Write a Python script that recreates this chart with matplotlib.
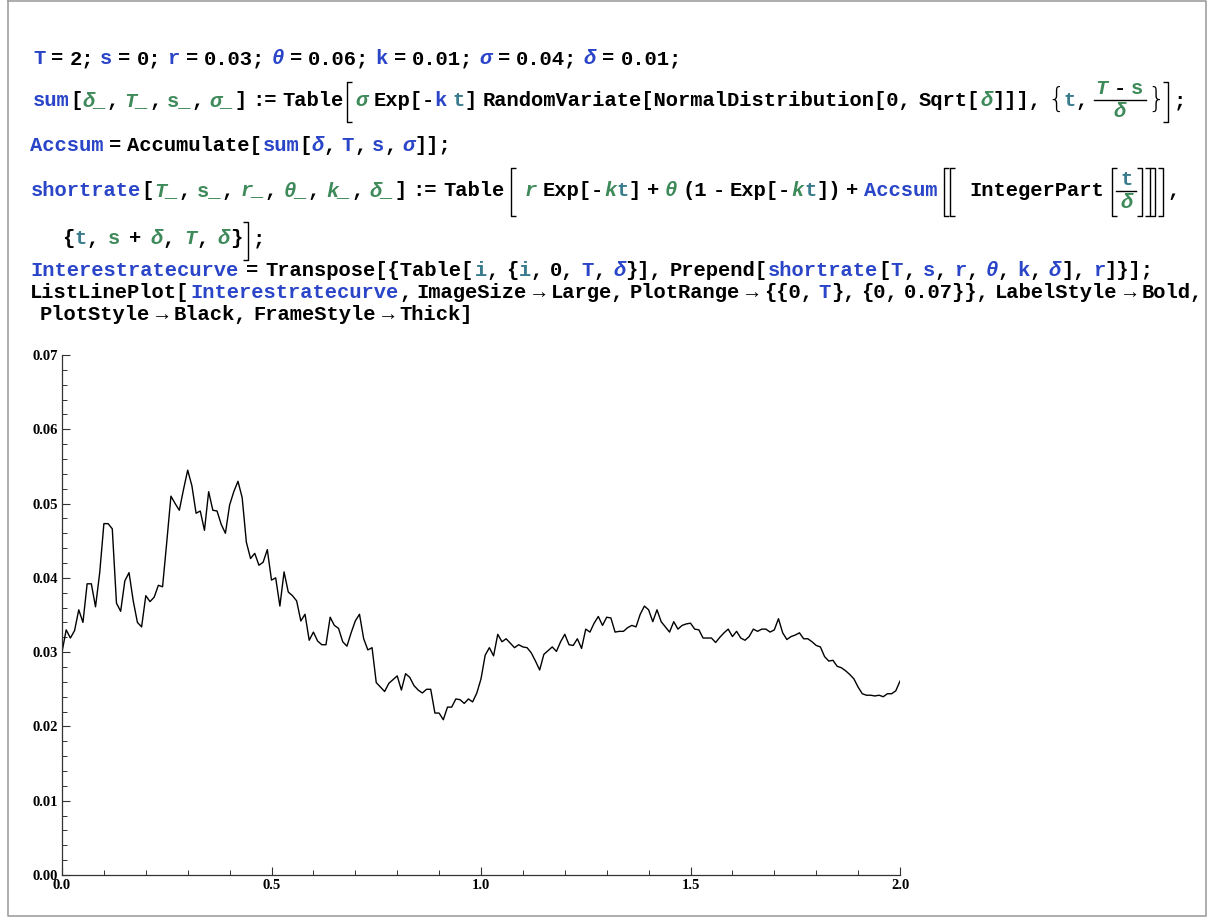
import re
import numpy as np
import matplotlib.pyplot as plt
from matplotlib.ticker import MultipleLocator

# short rate path r(t), t = 0, 0.01, ..., 2 (in units of 1e-3)
rate_1e3 = [
    30.0, 33.0, 31.9, 32.9, 35.7, 34.0, 39.2, 39.2, 36.1, 40.7,
    47.3, 47.3, 46.6, 36.6, 35.5, 39.6, 40.7, 36.9, 34.0, 33.4,
    37.6, 36.8, 37.4, 39.0, 38.8, 44.8, 51.0, 50.0, 49.1, 51.9,
    54.5, 52.4, 48.7, 49.0, 46.4, 51.6, 49.1, 49.0, 47.2, 46.0,
    49.8, 51.6, 53.0, 50.8, 44.8, 42.6, 43.3, 41.7, 42.1, 43.8,
    39.7, 40.0, 36.2, 40.8, 38.1, 37.6, 36.9, 34.2, 35.1, 31.6,
    32.7, 31.5, 31.0, 31.0, 34.7, 33.6, 33.2, 31.4, 30.8, 32.6,
    34.2, 35.1, 31.8, 30.3, 30.6, 25.9, 25.3, 24.7, 25.8, 26.3,
    26.8, 24.9, 27.1, 26.6, 25.5, 24.9, 24.5, 25.0, 25.0, 21.8,
    21.8, 20.9, 22.6, 22.6, 23.7, 23.6, 23.1, 23.7, 23.3, 24.5,
    26.4, 29.6, 30.6, 29.5, 32.4, 31.4, 31.8, 31.2, 30.6, 31.0,
    30.7, 30.6, 29.9, 28.8, 27.6, 29.7, 30.2, 30.7, 30.1, 31.4,
    32.4, 31.0, 30.9, 31.8, 30.5, 33.1, 32.7, 33.9, 34.8, 33.6,
    34.7, 34.6, 32.7, 32.8, 32.8, 33.3, 33.6, 33.4, 35.1, 36.2,
    35.7, 34.1, 35.7, 34.1, 33.4, 32.7, 34.1, 33.1, 33.6, 33.8,
    33.9, 33.1, 33.0, 31.9, 31.9, 31.9, 31.3, 32.0, 32.6, 33.1,
    32.1, 32.8, 31.9, 31.6, 32.1, 33.1, 32.8, 33.1, 33.1, 32.7,
    33.0, 34.5, 32.6, 31.7, 32.1, 32.3, 32.6, 31.8, 31.8, 31.4,
    30.9, 30.7, 29.4, 28.8, 28.9, 28.1, 27.9, 27.5, 27.0, 26.4,
    25.3, 24.4, 24.2, 24.2, 24.1, 24.2, 24.0, 24.4, 24.4, 24.8,
    26.1,
]
delta = 0.01
times = np.arange(len(rate_1e3)) * delta
rates = np.array(rate_1e3) / 1000

x_ticks = [0.0, 0.5, 1.0, 1.5, 2.0]
x_labels = ['0.0', '0.5', '1.0', '1.5', '2.0']
y_ticks = [0.00, 0.01, 0.02, 0.03, 0.04, 0.05, 0.06, 0.07]
y_labels = ['0.00', '0.01', '0.02', '0.03', '0.04', '0.05', '0.06', '0.07']

BLUE = '#2a45c8'
GREEN = '#3f8a5a'
TEAL = '#3a7c8e'
STY = {
    'k': ('black', 'normal'),
    'b': (BLUE, 'normal'),
    'bi': (BLUE, 'italic'),
    'g': (GREEN, 'normal'),
    'gi': (GREEN, 'italic'),
    't': (TEAL, 'normal'),
}
MONO = ['Liberation Mono', 'DejaVu Sans Mono']
CW = 12.3          # advance of one glyph, px
SW = 5.5           # Mathematica's narrow spaces, px
FS = CW / 0.6 * 0.72

W, H = 1209, 918
fig = plt.figure(figsize=(W / 100, H / 100), dpi=100)
tax = fig.add_axes([0, 0, 1, 1])
tax.set_xlim(0, W)
tax.set_ylim(H, 0)
tax.axis('off')


def put(x, y, text, key, sw=SW):
    color, style = STY[key]
    for tok in re.split('( )', text):
        if tok == ' ':
            x += sw
        elif tok:
            tax.text(x, y, tok, color=color, fontstyle=style, fontsize=FS,
                     family=MONO, weight='bold', va='baseline', ha='left')
            x += CW * len(tok)
    return x


def run(x, y, segs, sw=SW):
    for text, key in segs:
        x = put(x, y, text, key, sw)
    return x


def width(segs):
    w = 0
    for text, _ in segs:
        for ch in text:
            w += SW if ch == ' ' else CW
    return w


def bracket(x, top, bot, side='l', w=5):
    s = 1 if side == 'l' else -1
    tax.plot([x + s * w, x, x, x + s * w], [top, top, bot, bot],
             color='black', lw=1.0, solid_capstyle='butt')


def brace(x, y, ch):
    tax.text(x, y, ch, fontsize=20, family='DejaVu Sans', weight='light',
             va='center', ha='left', color='black')


def frac(x, ybar, num, den, pad=4):
    wn, wd = width(num), width(den)
    w = max(wn, wd) + pad
    tax.plot([x, x + w], [ybar, ybar], color='black', lw=1.0)
    run(x + (w - wn) / 2, ybar - 6, num)
    run(x + (w - wd) / 2, ybar + 17, den)
    return x + w


# line 1
run(33, 64, [("T", "b"), (" = 2; ", "k"), ("s", "b"), (" = 0; ", "k"), ("r", "b"),
             (" = 0.03; ", "k"), ("θ", "bi"), (" = 0.06; ", "k"), ("k", "b"),
             (" = 0.01; ", "k"), ("σ", "bi"), (" = 0.04; ", "k"), ("δ", "bi"),
             (" = 0.01;", "k")], sw=6.0)

# line 2
y2 = 106
x = run(33, y2, [("sum", "b"), ("[", "k"), ("δ_", "gi"), (", ", "k"), ("T_", "gi"),
                 (", ", "k"), ("s_", "g"), (", ", "k"), ("σ_", "gi"), ("] := Table", "k")])
bracket(x + 4, 82, 122, 'l')
x = run(x + 12, y2, [("σ", "gi"), (" Exp[-", "k"), ("k", "b"), (" ", "k"), ("t", "t"),
                     ("] RandomVariate[NormalDistribution[0, Sqrt[", "k"), ("δ", "gi"),
                     ("]]],", "k")])
brace(x + 6, 100, "{")
x = run(x + 22, y2, [("t", "t"), (", ", "k")])
x = frac(x, 100, [("T", "gi"), (" - ", "k"), ("s", "g")], [("δ", "gi")])
brace(x + 2, 100, "}")
bracket(x + 22, 82, 122, 'r')
run(x + 28, y2, [(";", "k")])

# line 3
run(30, 151, [("Accsum", "b"), (" = Accumulate[", "k"), ("sum", "b"), ("[", "k"),
              ("δ", "bi"), (", ", "k"), ("T", "b"), (", ", "k"), ("s", "b"), (", ", "k"),
              ("σ", "bi"), ("]];", "k")])

# line 4
y4 = 196
x = run(31, y4, [("shortrate", "b"), ("[", "k"), ("T_", "gi"), (", ", "k"), ("s_", "g"),
                 (", ", "k"), ("r_", "gi"), (", ", "k"), ("θ_", "gi"), (", ", "k"),
                 ("k_", "gi"), (", ", "k"), ("δ_", "gi"), ("] := Table", "k")], sw=6.2)
bracket(x + 6, 168, 216, 'l')
x = run(x + 20, y4, [("r", "gi"), (" Exp[-", "k"), ("k", "gi"), ("t", "t"), ("] + ", "k"),
                     ("θ", "gi"), (" (1 - Exp[-", "k"), ("k", "gi"), ("t", "t"),
                     ("]) + ", "k"), ("Accsum", "b")], sw=5.5)
bracket(x + 6, 168, 216, 'l')
bracket(x + 12, 168, 216, 'l')
x = run(x + 31, y4, [("IntegerPart", "k")])
bracket(x + 8, 168, 216, 'l')
x = frac(x + 12, 191, [("t", "t")], [("δ", "gi")], pad=8)
bracket(x + 6, 168, 216, 'r')
bracket(x + 14, 168, 216, 'r')
bracket(x + 19, 168, 216, 'r')
bracket(x + 27, 168, 216, 'r')
run(x + 31, y4, [(",", "k")])

# line 5
x = run(62, 244, [("{", "k"), ("t", "t"), (", ", "k"), ("s", "g"), (" + ", "k"), ("δ", "gi"),
                  (", ", "k"), ("T", "gi"), (", ", "k"), ("δ", "gi"), ("}", "k")], sw=9.0)
bracket(x + 6, 222, 260, 'r')
run(x + 10, 244, [(";", "k")])

# lines 6-8
run(30, 276, [("Interestratecurve", "b"), (" = Transpose[{Table[", "k"), ("i", "t"),
              (", {", "k"), ("i", "t"), (", 0, ", "k"), ("T", "b"), (", ", "k"),
              ("δ", "bi"), ("}], Prepend[", "k"), ("shortrate", "b"), ("[", "k"),
              ("T", "b"), (", ", "k"), ("s", "b"), (", ", "k"), ("r", "b"), (", ", "k"),
              ("θ", "bi"), (", ", "k"), ("k", "b"), (", ", "k"), ("δ", "bi"),
              ("], ", "k"), ("r", "b"), ("]}];", "k")], sw=7.0)
run(30, 298, [("ListLinePlot[", "k"), ("Interestratecurve", "b"),
              (", ImageSize → Large, PlotRange → {{0, ", "k"), ("T", "b"),
              ("}, {0, 0.07}}, LabelStyle → Bold,", "k")])
run(40, 320, [("PlotStyle → Black, FrameStyle → Thick]", "k")])

# notebook frame
tax.plot([8, 8, 1206, 1206, 8], [1, 916, 916, 1, 1], color='#a0a0a0', lw=1.2)

# the plot
ax = fig.add_axes([62 / W, 1 - 875 / H, (900 - 62) / W, (875 - 355) / H])
ax.plot(times, rates, color='black', lw=1.0)
ax.set_xlim(0, 2)
ax.set_ylim(0, 0.07)
ax.patch.set_alpha(0)
for side in ['top', 'right']:
    ax.spines[side].set_visible(False)
for side in ['left', 'bottom']:
    ax.spines[side].set_color('#333333')
    ax.spines[side].set_linewidth(0.9)
ax.set_xticks(x_ticks)
ax.set_xticklabels(x_labels)
ax.set_yticks(y_ticks)
ax.set_yticklabels(y_labels)
ax.xaxis.set_minor_locator(MultipleLocator(0.1))
ax.yaxis.set_minor_locator(MultipleLocator(0.002))
ax.tick_params(which='major', direction='in', length=6, width=0.8, color='#333333', pad=3)
ax.tick_params(which='minor', direction='in', length=3.5, width=0.7, color='#333333')
for lab in ax.get_xticklabels() + ax.get_yticklabels():
    lab.set_family('Liberation Serif')
    lab.set_weight('bold')
    lab.set_fontsize(10.5)

fig.savefig('out.png', dpi=100)
